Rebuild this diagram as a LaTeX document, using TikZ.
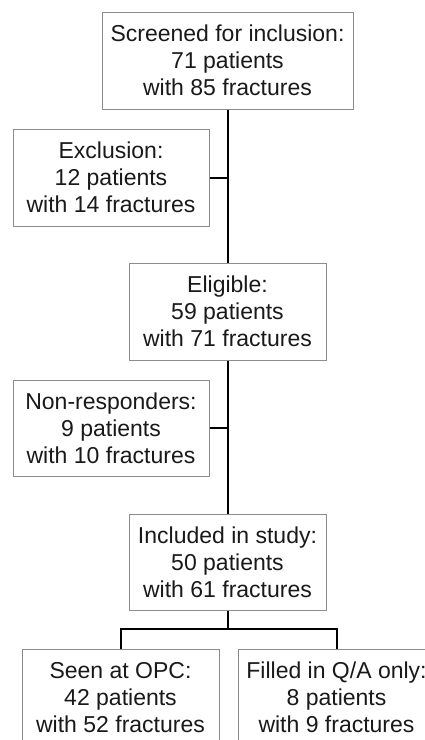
\documentclass[tikz,border=0pt]{standalone}
\usepackage{fontspec}
\setmainfont{Liberation Sans}
\begin{document}
\begin{tikzpicture}[x=1pt,y=-1pt,
  box/.style={draw=black!45,line width=1pt,inner sep=0pt,align=center,
    minimum height=97pt,text=black!90,
    font=\fontsize{23}{27}\selectfont},
  conn/.style={line width=2pt,black}]
\useasboundingbox (0,0) rectangle (425,740);
\clip (0,0) rectangle (425,740);
\node[box,minimum width=251pt] (scr) at (227.5,60.5) {Screened for inclusion:\\71 patients\\with 85 fractures};
\node[box,minimum width=196pt] (exc) at (111,177.5) {Exclusion:\\12 patients\\with 14 fractures};
\node[box,minimum width=197pt] (eli) at (227.5,311.5) {Eligible:\\59 patients\\with 71 fractures};
\node[box,minimum width=196pt,minimum height=96pt] (non) at (111,428) {Non-responders:\\9 patients\\with 10 fractures};
\node[box,minimum width=197pt,minimum height=96pt] (inc) at (227.5,562) {Included in study:\\50 patients\\with 61 fractures};
\node[box,minimum width=197pt] (opc) at (120.5,697.5) {Seen at OPC:\\42 patients\\with 52 fractures};
\node[box,minimum width=197pt] (qa) at (336.5,697.5) {Filled in Q/A only:\\8 patients\\with 9 fractures};
\coordinate (br) at (227.5,629);
\draw[conn] (scr.south) -- (eli.north);
\draw[conn] (exc.east) -- (exc.east -| scr.south);
\draw[conn] (eli.south) -- (inc.north);
\draw[conn] (non.east) -- (non.east -| eli.south);
\draw[conn] (inc.south) -- (br);
\draw[conn] (opc.north) |- (br) -| (qa.north);
\end{tikzpicture}
\end{document}
